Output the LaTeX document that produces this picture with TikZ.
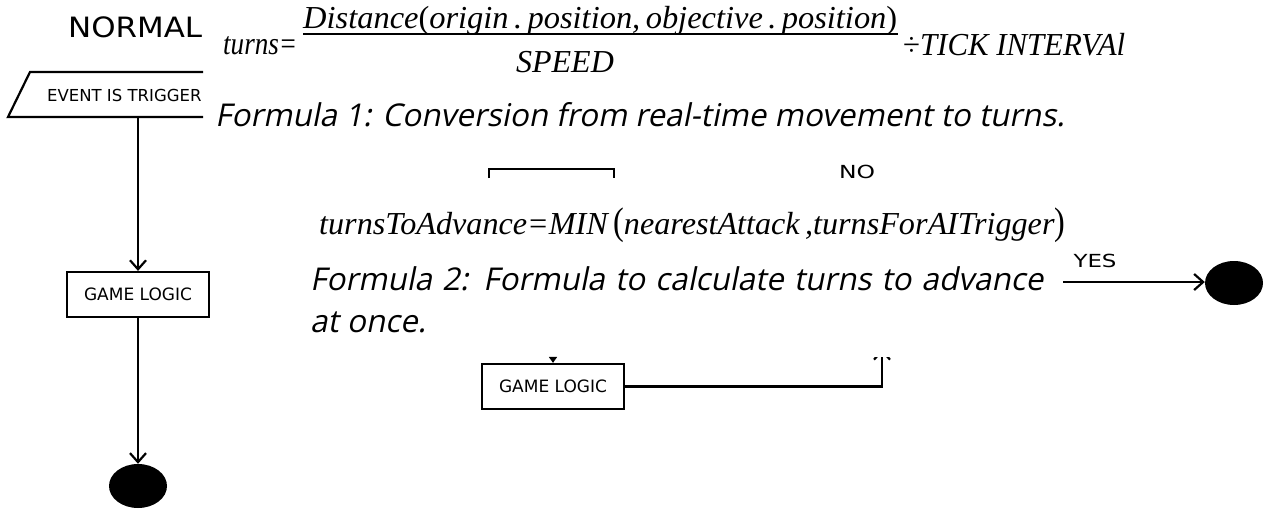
\documentclass[tikz,border=0pt]{standalone}
\usepackage{fontspec}
\usepackage{graphicx}
\usetikzlibrary{arrows.meta,shapes.geometric}
\setmainfont{Liberation Serif}
\newfontfamily\chartfont{DejaVu Sans}
\newfontfamily\capfont[FakeSlant=0.2]{Open Sans}
\newfontfamily\eqfont{Liberation Serif}

\tikzset{
  chartlabel/.style={inner sep=0pt, font=\chartfont\fontsize{16.5pt}{18pt}\selectfont},
  flowbox/.style={draw, line width=2.2pt, minimum width=142pt, minimum height=45pt,
    inner sep=0pt, font=\chartfont\fontsize{17pt}{18pt}\selectfont},
  flowline/.style={line width=2.2pt},
  flowarrow/.style={line width=2.2pt, -{Straight Barb[length=9pt,width=16pt]}},
  endnode/.style={ellipse, fill=black, minimum width=58pt, minimum height=44pt, inner sep=0pt},
  eqtext/.style={inner sep=0pt, font=\eqfont\itshape\fontsize{32pt}{36pt}\selectfont},
  captext/.style={inner sep=0pt, font=\capfont\fontsize{31.4pt}{36pt}\selectfont},
}

\begin{document}
\begin{tikzpicture}[x=1pt, y=-1pt]
\useasboundingbox (0,0) rectangle (1271,517);

% --- left flow: NORMAL lane ---
\node[chartlabel, anchor=base west, font=\chartfont\fontsize{28pt}{30pt}\selectfont]
  (normal) at (68,37) {\resizebox{134pt}{\height}{NORMAL}};

% visible part of the input parallelogram
\draw[flowline] (203,72) -- (30,72) -- (8,117) -- (203,117);
\node[chartlabel, anchor=base west] (event) at (47,101) {EVENT IS TRIGGER};
\coordinate (eventout) at (138,117);

\node[flowbox] (logic1) at (138,294.5) {GAME LOGIC};
\node[endnode] (end1) at (138,486) {};
\draw[flowarrow] (eventout) -- (logic1.north);
\draw[flowarrow] (logic1.south) -- (end1.north);

% --- right flow ---
\draw[flowline] (489,178) -- (489,169) -- (614,169) -- (614,178);
\node[chartlabel, font=\chartfont\fontsize{18pt}{20pt}\selectfont]
  (no) at (857,172) {\resizebox{36pt}{\height}{NO}};

\node[flowbox] (logic2) at (553,386.5) {GAME LOGIC};
\coordinate (logicin) at (553,357);
\draw[line width=2pt, -{Triangle[length=6pt,width=8pt]}] (logicin) -- (logic2.north);

\coordinate (loopup) at (882,349);
\begin{scope}
  \clip (0,357) rectangle (1271,517);
  \draw[flowarrow] (logic2.east) -| (loopup);
\end{scope}

\coordinate (yesfrom) at (1063,282);
\node[endnode] (end2) at (1234,283) {};
\draw[flowarrow] (yesfrom) -- (end2.west |- yesfrom);
\node[chartlabel, font=\chartfont\fontsize{18pt}{20pt}\selectfont]
  (yes) at (1095,261) {\resizebox{43pt}{\height}{YES}};

% --- Formula 1 ---
\node[eqtext, anchor=base west] (f1lhs) at (223,54) {\resizebox{74pt}{\height}{turns=}};
\node[eqtext, anchor=base west] (f1num) at (303,28)
  {\resizebox{594pt}{\height}{Distance{\upshape(}origin\,.\,position,\,objective\,.\,position{\upshape)}}};
\draw[line width=1.6pt] (303,34) -- (898,34);
\node[eqtext, anchor=base] (f1den) at (565,72) {SPEED};
\node[eqtext, anchor=base west] (f1rhs) at (903,55) {\resizebox{222pt}{\height}{\upshape÷\itshape TICK INTERVAl}};

\node[captext, anchor=base west] (cap1) at (215,126)
  {Formula 1: Conversion from real-time movement to turns.};

% --- Formula 2 ---
\node[eqtext, anchor=base west] (f2) at (319,234)
  {\resizebox{746pt}{\height}{turnsToAdvance=MIN\,\scalebox{1}[1.2]{\upshape(}nearestAttack\,,turnsForAITrigger\scalebox{1}[1.2]{\upshape)}}};

\node[captext, anchor=base west] (cap2a) at (310,290)
  {\makebox[733pt][s]{Formula 2: Formula to calculate turns to advance}};
\node[captext, anchor=base west] (cap2b) at (310,332) {at once.};

\end{tikzpicture}
\end{document}
